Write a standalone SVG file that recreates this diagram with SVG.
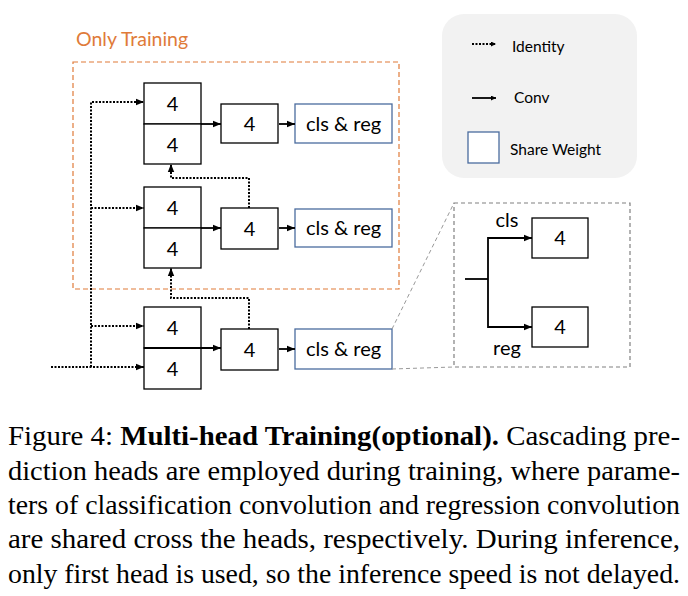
<svg xmlns="http://www.w3.org/2000/svg" width="688" height="596" viewBox="0 0 688 596">
<style>
.box{fill:#fff;stroke:#000;stroke-width:1.3}
.sw{fill:#fff;stroke:#4a6c9e;stroke-width:1.3}
.t{font-family:Lato,"Open Sans",sans-serif;font-size:20px;fill:#000;text-anchor:middle}
.lg{font-family:Lato,"Open Sans",sans-serif;font-size:15.5px;fill:#000}
.dot{fill:none;stroke:#000;stroke-width:2;stroke-dasharray:2 1.5}
.sol{fill:none;stroke:#000;stroke-width:1.8}
.cap{font-family:"Liberation Serif",serif;font-size:28px;fill:#000}
</style>
<defs>
<marker id="ah" viewBox="0 0 10 10" refX="10" refY="5" markerWidth="5" markerHeight="5" orient="auto" markerUnits="userSpaceOnUse">
<path d="M0,0 L10,5 L0,10 z" fill="#000"/>
</marker>
<marker id="ah2" viewBox="0 0 10 10" refX="10" refY="5" markerWidth="8" markerHeight="8" orient="auto" markerUnits="userSpaceOnUse">
<path d="M0,1 L10,5 L0,9 z" fill="#000"/>
</marker>
</defs>
<rect width="688" height="596" fill="#fff"/>

<g id="only-training">
<rect x="73" y="62" width="326" height="227" fill="none" stroke="#e07b39" stroke-width="1.2" stroke-dasharray="5 3"/>
<text x="76" y="46" font-family="Lato,'Open Sans',sans-serif" font-size="19.5" fill="#e07b39">Only Training</text>
</g>

<g id="legend">
<rect x="442" y="14" width="195" height="164" rx="22" fill="#f2f2f2"/>
<text class="lg" x="512" y="52">Identity</text>
<text class="lg" x="514" y="103">Conv</text>
<rect class="sw" x="468" y="132" width="31" height="31"/>
<text class="lg" x="510" y="155">Share Weight</text>
</g>

<g id="head1">
<rect class="box" x="144" y="83" width="57" height="41"/>
<rect class="box" x="144" y="124" width="57" height="40"/>
<text class="t" x="172.5" y="111">4</text>
<text class="t" x="172.5" y="152">4</text>
<rect class="box" x="221" y="104" width="57" height="39"/>
<text class="t" x="249.5" y="131">4</text>
<rect class="sw" x="295" y="104" width="97" height="39"/>
<text class="t" x="343.5" y="131">cls &amp; reg</text>
</g>

<g id="head2">
<rect class="box" x="144" y="187" width="57" height="41"/>
<rect class="box" x="144" y="228" width="57" height="40"/>
<text class="t" x="172.5" y="215">4</text>
<text class="t" x="172.5" y="256">4</text>
<rect class="box" x="221" y="208" width="57" height="41"/>
<text class="t" x="249.5" y="236">4</text>
<rect class="sw" x="295" y="209" width="97" height="38"/>
<text class="t" x="343.5" y="235">cls &amp; reg</text>
</g>

<g id="head3">
<rect class="box" x="144" y="307" width="57" height="41"/>
<rect class="box" x="144" y="348" width="57" height="41"/>
<text class="t" x="172.5" y="335">4</text>
<text class="t" x="172.5" y="376">4</text>
<rect class="box" x="221" y="329" width="57" height="41"/>
<text class="t" x="249.5" y="357">4</text>
<rect class="sw" x="295" y="329" width="97" height="40"/>
<text class="t" x="343.5" y="356">cls &amp; reg</text>
</g>

<g id="zoom-detail">
<rect x="454" y="203" width="176" height="164" fill="none" stroke="#808080" stroke-width="1.2" stroke-dasharray="4 3"/>
<rect class="box" x="532" y="218" width="56" height="40"/>
<text class="t" x="560" y="245">4</text>
<rect class="box" x="532" y="307" width="56" height="40"/>
<text class="t" x="560" y="334">4</text>
<text class="t" x="507" y="227">cls</text>
<text class="t" x="507" y="355">reg</text>
</g>

<g id="connectors">
<line class="dot" x1="472" y1="44" x2="496" y2="44" marker-end="url(#ah)"/>
<line class="sol" x1="472" y1="98" x2="496" y2="98" marker-end="url(#ah)"/>
<polyline class="dot" points="51,367 144,367" marker-end="url(#ah2)"/>
<polyline class="dot" points="91,367 91,102 144,102" marker-end="url(#ah2)"/>
<line class="dot" x1="91" y1="208" x2="144" y2="208" marker-end="url(#ah2)"/>
<line class="dot" x1="91" y1="326" x2="144" y2="326" marker-end="url(#ah2)"/>
<polyline class="dot" points="249,208 249,178 171,178 171,164" marker-end="url(#ah2)"/>
<polyline class="dot" points="249,329 249,298 171,298 171,268" marker-end="url(#ah2)"/>
<line class="sol" x1="201" y1="124" x2="221" y2="124" marker-end="url(#ah2)"/>
<line class="sol" x1="201" y1="228" x2="221" y2="228" marker-end="url(#ah2)"/>
<line class="sol" x1="144" y1="348" x2="221" y2="348" marker-end="url(#ah2)"/>
<line class="sol" x1="279" y1="124" x2="295" y2="124" marker-end="url(#ah2)"/>
<line class="sol" x1="279" y1="228" x2="295" y2="228" marker-end="url(#ah2)"/>
<line class="sol" x1="279" y1="349" x2="295" y2="349" marker-end="url(#ah2)"/>
<line x1="392" y1="329" x2="454" y2="203" stroke="#999" stroke-width="1" stroke-dasharray="4 3"/>
<line x1="392" y1="369" x2="454" y2="367" stroke="#999" stroke-width="1" stroke-dasharray="4 3"/>
<polyline class="sol" points="465,279 488,279"/>
<polyline class="sol" points="532,238 488,238 488,327 532,327"/>
<line class="sol" x1="510" y1="238" x2="532" y2="238" marker-end="url(#ah2)"/>
<line class="sol" x1="510" y1="327" x2="532" y2="327" marker-end="url(#ah2)"/>
</g>

<g id="caption">
<text class="cap" x="8" y="445" textLength="672" lengthAdjust="spacingAndGlyphs">Figure 4: <tspan font-weight="bold">Multi-head Training(optional).</tspan> Cascading pre-</text>
<text class="cap" x="8" y="480" textLength="672" lengthAdjust="spacingAndGlyphs">diction heads are employed during training, where parame-</text>
<text class="cap" x="8" y="514" textLength="672" lengthAdjust="spacingAndGlyphs">ters of classification convolution and regression convolution</text>
<text class="cap" x="8" y="548" textLength="672" lengthAdjust="spacingAndGlyphs">are shared cross the heads, respectively.  During inference,</text>
<text class="cap" x="8" y="583" textLength="672" lengthAdjust="spacingAndGlyphs">only first head is used, so the inference speed is not delayed.</text>
</g>
</svg>
